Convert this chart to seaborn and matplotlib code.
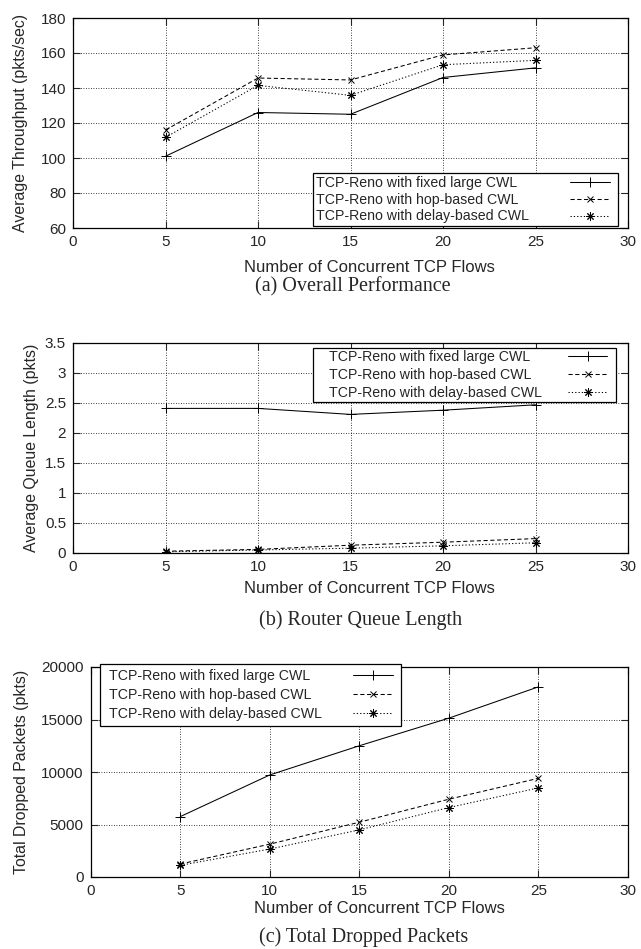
import numpy as np
import pandas as pd
import matplotlib
matplotlib.use("Agg")
import matplotlib.pyplot as plt
import seaborn as sns
from matplotlib.offsetbox import DrawingArea

# %% data
flows = [5, 10, 15, 20, 25]
schemes = ["TCP-Reno with fixed large CWL",
           "TCP-Reno with hop-based CWL",
           "TCP-Reno with delay-based CWL"]

thr_fixed = [101, 126, 125, 146, 151.5]
thr_hop = [116, 145.7, 144.6, 158.9, 163]
thr_delay = [111.8, 141.5, 135.8, 153.3, 155.8]

q_fixed = [2.41, 2.41, 2.31, 2.38, 2.47]
q_hop = [0.03, 0.06, 0.13, 0.18, 0.24]
q_delay = [0.02, 0.05, 0.08, 0.12, 0.17]

drop_fixed = [5750, 9720, 12500, 15130, 18110]
drop_hop = [1235, 3130, 5220, 7410, 9400]
drop_delay = [1110, 2660, 4490, 6615, 8485]

captions = ["(a) Overall Performance", "(b) Router Queue Length",
            "(c) Total Dropped Packets"]
ylabels = ["Average Throughput (pkts/sec)", "Average Queue Length (pkts)",
           "Total Dropped Packets (pkts)"]

# %% style
sns.set_style("ticks")
plt.rcParams["font.family"] = ["Liberation Sans", "DejaVu Sans"]

styles = [dict(linestyle="-", marker="+", markersize=6.5),
          dict(linestyle=(0, (4, 2.5)), marker="x", markersize=5),
          dict(linestyle=(0, (1.2, 2)), marker=(8, 2, 0), markersize=6)]

W, H = 641, 949
fig = plt.figure(figsize=(W / 100, H / 100), dpi=100)
PT = 100 / 72.0  # px per point


def make_ax(left, top, right, bottom):
    return fig.add_axes([left / W, 1 - bottom / H, (right - left) / W, (bottom - top) / H])


axes = [make_ax(73, 18, 628, 228), make_ax(73, 343, 628, 553), make_ax(90.7, 667, 628, 877)]
data = [[thr_fixed, thr_hop, thr_delay], [q_fixed, q_hop, q_delay],
        [drop_fixed, drop_hop, drop_delay]]
ylims = [(60, 180, 20), (0, 3.5, 0.5), (0, 20000, 5000)]
xlab_pos = [(0.535, -0.190), (0.535, -0.167), (0.538, -0.148)]
ylab_x = [-0.094, -0.074, -0.128]
# legend: anchor (axes frac), borderpad, labelspacing, left/right spacer px, textpad, handlelen
leg_cfg = [((0.432, 0.262), 0.2, 0.2, 0, 5, 2.95, 2.8),
           ((0.432, 0.976), 0.17, 0.26, 14, 6.5, 1.85, 2.75),
           ((0.0173, 1.014), 0.33, 0.37, 4, 3.5, 2.25, 2.8)]

legends = []
for i, ax in enumerate(axes):
    for name, vals, st in zip(schemes, data[i], styles):
        df = pd.DataFrame({"flows": flows, "val": vals})
        sns.lineplot(data=df, x="flows", y="val", ax=ax, color="black",
                     linewidth=0.75, markeredgewidth=0.7, markeredgecolor="black",
                     markerfacecolor="black", label=name, **st)
    lo, hi, step = ylims[i]
    ax.set_xlim(0, 30)
    ax.set_ylim(lo, hi)
    ax.set_xticks(np.arange(0, 31, 5))
    ax.set_yticks(np.arange(lo, hi + step / 2, step))
    if i == 1:
        ax.set_yticklabels(["0", "0.5", "1", "1.5", "2", "2.5", "3", "3.5"])
    ax.grid(True, color="black", linestyle=(0, (1, 2)), linewidth=0.6)
    ax.tick_params(direction="in", top=True, right=True, length=5, width=0.8,
                   labelsize=11, pad=5)
    for s in ax.spines.values():
        s.set_linewidth(0.9)
        s.set_color("black")
    ax.set_xlabel("Number of Concurrent TCP Flows", fontsize=12)
    ax.xaxis.label.set_va("center")
    ax.xaxis.set_label_coords(*xlab_pos[i])
    ax.set_ylabel(ylabels[i], fontsize=11.4)
    ax.yaxis.label.set_va("center")
    ax.yaxis.set_label_coords(ylab_x[i], 0.5)

    anchor, bp, ls, lpad, rpad, tp, hl = leg_cfg[i]
    leg = ax.legend(loc="upper left", bbox_to_anchor=anchor, borderaxespad=0,
                    markerfirst=False, fontsize=10.2, handlelength=hl,
                    fancybox=False, borderpad=bp, labelspacing=ls,
                    handletextpad=tp, columnspacing=0)
    leg.get_frame().set_edgecolor("black")
    leg.get_frame().set_linewidth(0.9)
    leg.get_frame().set_alpha(1)
    hb = leg._legend_handle_box
    hb._children = [DrawingArea(lpad / PT, 0), *hb._children, DrawingArea(rpad / PT, 0)]
    for c in hb._children:
        c.set_figure(fig)
    legends.append(leg)

# left-align legend texts (markerfirst=False right-aligns the rows)
fig.canvas.draw()
r = fig.canvas.get_renderer()
for leg in legends:
    for col in leg._legend_handle_box.get_children()[1:-1]:
        rows = col.get_children()
        widths = [row.get_children()[0].get_bbox(r).width for row in rows]
        for row, w in zip(rows, widths):
            row.sep += (max(widths) - w) / PT

cap_pos = [(353, 287), (361, 620), (364, 937)]
for (x, y), c in zip(cap_pos, captions):
    fig.text(x / W, 1 - y / H, c, ha="center", va="center", fontsize=14.5,
             family=["Liberation Serif", "DejaVu Serif"])

fig.savefig("out.png", dpi=100)
